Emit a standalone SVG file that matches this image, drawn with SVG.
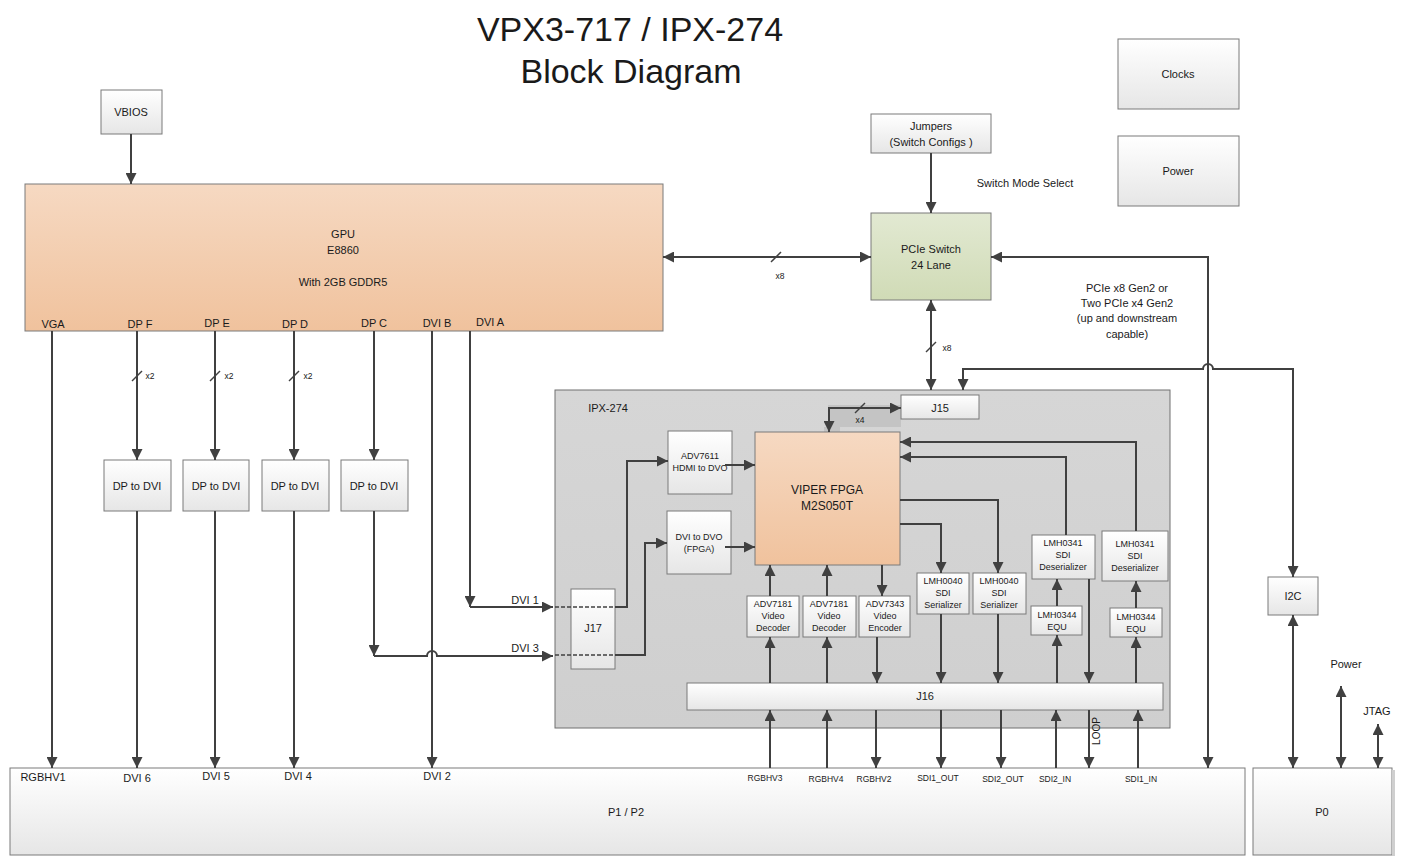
<svg xmlns="http://www.w3.org/2000/svg" width="1401" height="857" viewBox="0 0 1401 857">
<defs>
<linearGradient id="gBox" x1="0" y1="0" x2="0" y2="1"><stop offset="0" stop-color="#ffffff"/><stop offset="1" stop-color="#e6e6e6"/></linearGradient>
<linearGradient id="gPeach" x1="0" y1="0" x2="0" y2="1"><stop offset="0" stop-color="#f6d9c2"/><stop offset="1" stop-color="#f0c29d"/></linearGradient>
<linearGradient id="gGreen" x1="0" y1="0" x2="0" y2="1"><stop offset="0" stop-color="#e2e9d2"/><stop offset="1" stop-color="#d0dbb6"/></linearGradient>
<linearGradient id="gGrey" x1="0" y1="0" x2="0" y2="1"><stop offset="0" stop-color="#d6d6d6"/><stop offset="1" stop-color="#cfcfcf"/></linearGradient>
<marker id="ar" viewBox="0 0 10 10" refX="10" refY="5" markerWidth="11" markerHeight="11" markerUnits="userSpaceOnUse" orient="auto-start-reverse"><path d="M0,0 L10,5 L0,10 z" fill="#404040"/></marker>
</defs>
<style>
text{font-family:"Liberation Sans",Arial,sans-serif;fill:#1a1a1a;text-anchor:middle}
.t{font-size:11px}
.s{font-size:9px}
.xs{font-size:8.5px}
.box{fill:url(#gBox);stroke:#7a7a7a;stroke-width:1}
.peach{fill:url(#gPeach);stroke:#7a7a7a;stroke-width:1}
.c{fill:none;stroke:#404040;stroke-width:2}
.a{marker-end:url(#ar)}
.b{marker-start:url(#ar);marker-end:url(#ar)}
.d{fill:none;stroke:#404040;stroke-width:1.5;stroke-dasharray:4,2}
.sl{stroke:#404040;stroke-width:1.5}
</style>

<g id="title">
<text x="630" y="41" style="font-size:34px">VPX3-717 / IPX-274</text>
<text x="631" y="83" style="font-size:34px">Block Diagram</text>
</g>

<g id="ipx274">
<rect x="555" y="390" width="615" height="338" fill="url(#gGrey)" stroke="#707070" stroke-width="1"/>
<text x="608" y="412" class="t" style="text-anchor:middle">IPX-274</text>
<rect x="828" y="405" width="73" height="22" fill="#c4c4c4"/>
<rect x="824" y="427" width="16" height="6" fill="#c4c4c4"/>
</g>

<g id="clocks"><rect class="box" x="1118" y="39" width="121" height="70"/><text class="t" x="1178" y="78">Clocks</text></g>
<g id="power"><rect class="box" x="1118" y="136" width="121" height="70"/><text class="t" x="1178" y="175">Power</text></g>
<g id="vbios"><rect class="box" x="101" y="90" width="61" height="44"/><text class="t" x="131" y="116">VBIOS</text></g>
<g id="gpu">
<rect class="peach" x="25" y="184" width="638" height="147"/>
<text class="t" x="343" y="238">GPU</text>
<text class="t" x="343" y="254">E8860</text>
<text class="t" x="343" y="286">With 2GB GDDR5</text>
<text class="t" x="53" y="328">VGA</text>
<text class="t" x="140" y="328">DP F</text>
<text class="t" x="217" y="327">DP E</text>
<text class="t" x="295" y="328">DP D</text>
<text class="t" x="374" y="327">DP C</text>
<text class="t" x="437" y="327">DVI B</text>
<text class="t" x="490" y="326">DVI A</text>
</g>
<g id="jumpers"><rect class="box" x="871" y="114" width="120" height="39"/><text class="t" x="931" y="130">Jumpers</text><text class="t" x="931" y="146">(Switch Configs )</text></g>
<g id="pcie"><rect x="871" y="213" width="120" height="87" fill="url(#gGreen)" stroke="#7a7a7a"/><text class="t" x="931" y="253">PCIe Switch</text><text class="t" x="931" y="269">24 Lane</text></g>

<g id="dp2dvi1"><rect class="box" x="104" y="460" width="67" height="51"/><text class="t" x="137" y="490">DP to DVI</text></g>
<g id="dp2dvi2"><rect class="box" x="183" y="460" width="66" height="51"/><text class="t" x="216" y="490">DP to DVI</text></g>
<g id="dp2dvi3"><rect class="box" x="262" y="460" width="67" height="51"/><text class="t" x="295" y="490">DP to DVI</text></g>
<g id="dp2dvi4"><rect class="box" x="341" y="460" width="67" height="51"/><text class="t" x="374" y="490">DP to DVI</text></g>

<g id="j15"><rect class="box" x="901" y="395" width="78" height="24"/><text class="t" x="940" y="412">J15</text></g>
<g id="fpga"><rect class="peach" x="755" y="432" width="145" height="133"/><text x="827" y="494" style="font-size:12px">VIPER FPGA</text><text x="827" y="510" style="font-size:12px">M2S050T</text></g>
<g id="adv7611"><rect class="box" x="668" y="431" width="64" height="63"/><text class="s" x="700" y="459">ADV7611</text><text class="s" x="700" y="471">HDMI to DVO</text></g>
<g id="dvi2dvo"><rect class="box" x="667" y="511" width="64" height="63"/><text class="s" x="699" y="540">DVI to DVO</text><text class="s" x="699" y="552">(FPGA)</text></g>
<g id="j17"><rect class="box" x="571" y="589" width="44" height="80"/><text class="t" x="593" y="632">J17</text></g>
<g id="adv7181a"><rect class="box" x="747" y="596" width="52" height="41"/><text class="s" x="773" y="607">ADV7181</text><text class="s" x="773" y="619">Video</text><text class="s" x="773" y="631">Decoder</text></g>
<g id="adv7181b"><rect class="box" x="803" y="596" width="53" height="41"/><text class="s" x="829" y="607">ADV7181</text><text class="s" x="829" y="619">Video</text><text class="s" x="829" y="631">Decoder</text></g>
<g id="adv7343"><rect class="box" x="859" y="596" width="51" height="41"/><text class="s" x="885" y="607">ADV7343</text><text class="s" x="885" y="619">Video</text><text class="s" x="885" y="631">Encoder</text></g>
<g id="lmh0040a"><rect class="box" x="917" y="573" width="52" height="41"/><text class="s" x="943" y="584">LMH0040</text><text class="s" x="943" y="596">SDI</text><text class="s" x="943" y="608">Serializer</text></g>
<g id="lmh0040b"><rect class="box" x="973" y="573" width="53" height="41"/><text class="s" x="999" y="584">LMH0040</text><text class="s" x="999" y="596">SDI</text><text class="s" x="999" y="608">Serializer</text></g>
<g id="lmh0341a"><rect class="box" x="1032" y="535" width="63" height="44"/><text class="s" x="1063" y="546">LMH0341</text><text class="s" x="1063" y="558">SDI</text><text class="s" x="1063" y="570">Deserializer</text></g>
<g id="lmh0341b"><rect class="box" x="1102" y="531" width="66" height="50"/><text class="s" x="1135" y="547">LMH0341</text><text class="s" x="1135" y="559">SDI</text><text class="s" x="1135" y="571">Deserializer</text></g>
<g id="lmh0344a"><rect class="box" x="1031" y="606" width="51" height="29"/><text class="s" x="1057" y="618">LMH0344</text><text class="s" x="1057" y="630">EQU</text></g>
<g id="lmh0344b"><rect class="box" x="1110" y="608" width="52" height="29"/><text class="s" x="1136" y="620">LMH0344</text><text class="s" x="1136" y="632">EQU</text></g>
<g id="j16"><rect class="box" x="687" y="683" width="476" height="27"/><text class="t" x="925" y="700">J16</text></g>
<g id="i2c"><rect class="box" x="1268" y="577" width="50" height="38"/><text class="t" x="1293" y="600">I2C</text></g>

<g id="p1p2">
<rect class="box" x="10" y="768" width="1235" height="87"/>
<text class="t" x="626" y="816">P1 / P2</text>
<text class="t" x="43" y="781">RGBHV1</text>
<text class="t" x="137" y="782">DVI 6</text>
<text class="t" x="216" y="780">DVI 5</text>
<text class="t" x="298" y="780">DVI 4</text>
<text class="t" x="437" y="780">DVI 2</text>
<text class="xs" x="765" y="781">RGBHV3</text>
<text class="xs" x="826" y="782">RGBHV4</text>
<text class="xs" x="874" y="782">RGBHV2</text>
<text class="xs" x="938" y="781">SDI1_OUT</text>
<text class="xs" x="1003" y="782">SDI2_OUT</text>
<text class="xs" x="1055" y="782">SDI2_IN</text>
<text class="xs" x="1141" y="782">SDI1_IN</text>
</g>
<g id="p0"><rect class="box" x="1253" y="768" width="139" height="87"/><rect x="1392" y="770" width="3" height="86" fill="#cfcfcf"/><text class="t" x="1322" y="816">P0</text></g>

<g id="labels">
<text class="t" x="1025" y="187">Switch Mode Select</text>
<text class="t" x="1127" y="292">PCIe x8 Gen2 or</text>
<text class="t" x="1127" y="307">Two PCIe x4 Gen2</text>
<text class="t" x="1127" y="322">(up and downstream</text>
<text class="t" x="1127" y="338">capable)</text>
<text class="xs" x="780" y="279">x8</text>
<text class="xs" x="947" y="351">x8</text>
<text class="xs" x="860" y="423">x4</text>
<text class="xs" x="150" y="379">x2</text>
<text class="xs" x="229" y="379">x2</text>
<text class="xs" x="308" y="379">x2</text>
<text class="t" x="525" y="604">DVI 1</text>
<text class="t" x="525" y="652">DVI 3</text>
<text class="t" x="1346" y="668">Power</text>
<text class="t" x="1377" y="715">JTAG</text>
<text transform="translate(1100,731) rotate(-90)" style="font-size:10px">LOOP</text>
</g>

<g id="connectors">
<path class="c a" d="M131,134 V184"/>
<path class="c a" d="M931,153 V213"/>
<path class="c b" d="M663,257 H871"/>
<path class="c b" d="M931,300 V390"/>
<path class="c b" d="M991,257 H1208 V768"/>
<path class="c b" d="M963,390 V369 H1203 a5,5 0 0 1 10,0 H1293 V577"/>
<path class="c b" d="M1293,615 V768"/>
<path class="c b" d="M1341,686 V768"/>
<path class="c b" d="M1378,724 V768"/>
<path class="c a" d="M52,331 V768"/>
<path class="c a" d="M137,331 V460"/>
<path class="c a" d="M215,331 V460"/>
<path class="c a" d="M294,331 V460"/>
<path class="c a" d="M374,331 V460"/>
<path class="c a" d="M137,511 V768"/>
<path class="c a" d="M215,511 V768"/>
<path class="c a" d="M294,511 V768"/>
<path class="c a" d="M374,511 V656"/>
<path class="c a" d="M374,656 H427 a5,5 0 0 1 10,0 H553"/>
<path class="c a" d="M432,331 V768"/>
<path class="c a" d="M470,331 V607"/>
<path class="c a" d="M470,607 H553"/>
<path class="d" d="M555,607 H615"/>
<path class="d" d="M555,655 H615"/>
<path class="c a" d="M615,607 H627 V461 H668"/>
<path class="c a" d="M615,655 H645 V543 H667"/>
<path class="c a" d="M725,465 H755"/>
<path class="c a" d="M725,547 H755"/>
<path class="c b" d="M901,408 H829 V432"/>
<path class="c a" d="M770,596 V565"/>
<path class="c a" d="M827,596 V565"/>
<path class="c a" d="M882,565 V596"/>
<path class="c a" d="M770,683 V637"/>
<path class="c a" d="M827,683 V637"/>
<path class="c a" d="M877,637 V683"/>
<path class="c a" d="M900,524 H941 V573"/>
<path class="c a" d="M900,500 H998 V573"/>
<path class="c a" d="M941,614 V683"/>
<path class="c a" d="M998,614 V683"/>
<path class="c a" d="M1066,535 V457 H900"/>
<path class="c a" d="M1136,531 V442 H900"/>
<path class="c a" d="M1057,606 V579"/>
<path class="c a" d="M1136,608 V581"/>
<path class="c a" d="M1057,683 V635"/>
<path class="c a" d="M1136,683 V637"/>
<path class="c a" d="M1089,579 V683"/>
<path class="c a" d="M770,768 V710"/>
<path class="c a" d="M827,768 V710"/>
<path class="c a" d="M876,710 V768"/>
<path class="c a" d="M941,710 V768"/>
<path class="c a" d="M1001,710 V768"/>
<path class="c a" d="M1056,768 V710"/>
<path class="c a" d="M1089,710 V768"/>
<path class="c a" d="M1138,768 V710"/>
<line class="sl" x1="771" y1="262" x2="781" y2="252"/>
<line class="sl" x1="926" y1="352" x2="936" y2="342"/>
<line class="sl" x1="855" y1="413" x2="865" y2="403"/>
<line class="sl" x1="132" y1="381" x2="142" y2="371"/>
<line class="sl" x1="210" y1="381" x2="220" y2="371"/>
<line class="sl" x1="289" y1="381" x2="299" y2="371"/>
</g>
</svg>
